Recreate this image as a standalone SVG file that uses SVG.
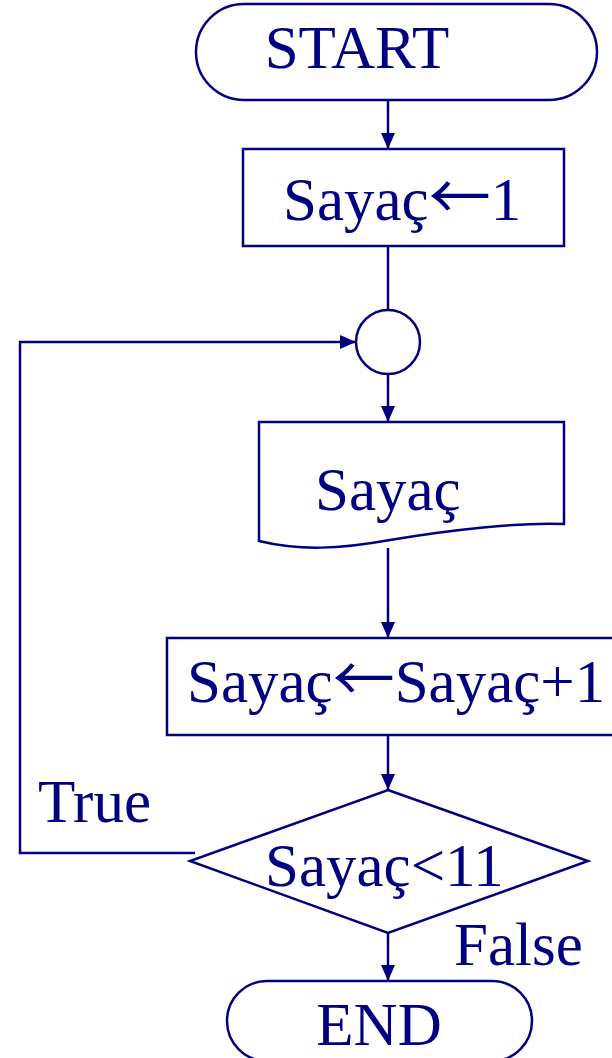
<svg xmlns="http://www.w3.org/2000/svg" width="612" height="1058" viewBox="0 0 612 1058">
<style>
.s{fill:#fff;stroke:#000080;stroke-width:2.5}
.c{fill:none;stroke:#000080;stroke-width:2.5}
.t{font-family:"Liberation Serif","Times New Roman",serif;font-size:61px;fill:#000080}
.ar{font-family:"Noto Sans CJK JP","Noto Sans CJK SC",sans-serif;font-size:62px}
</style>
<defs>
<marker id="a" viewBox="0 0 16 14" refX="16" refY="7" markerWidth="16" markerHeight="14" markerUnits="userSpaceOnUse" orient="auto">
<path d="M0,0 L16,7 L0,14 Z" fill="#000080"/>
</marker>
</defs>
<rect width="612" height="1058" fill="#fff"/>
<g id="connectors">
<line class="c" x1="388" y1="100" x2="388" y2="149" marker-end="url(#a)"/>
<line class="c" x1="388" y1="246" x2="388" y2="310"/>
<line class="c" x1="388" y1="374" x2="388" y2="422" marker-end="url(#a)"/>
<line class="c" x1="388" y1="548" x2="388" y2="638" marker-end="url(#a)"/>
<line class="c" x1="388" y1="735" x2="388" y2="790" marker-end="url(#a)"/>
<line class="c" x1="388" y1="933" x2="388" y2="981" marker-end="url(#a)"/>
<polyline class="c" points="195,853 20,853 20,342 356,342" marker-end="url(#a)"/>
</g>
<g id="start">
<rect class="s" x="196" y="4" width="401" height="96" rx="48" ry="48"/>
<text class="t" x="357" y="68" text-anchor="middle">START</text>
</g>
<g id="init">
<rect class="s" x="243" y="149" width="321" height="97"/>
<text class="t" x="283" y="220">Sayaç<tspan class="ar">←</tspan>1</text>
</g>
<g id="connector-circle">
<circle class="s" cx="388" cy="342" r="32"/>
</g>
<g id="output">
<path class="s" d="M259,422 H564 V524 C520,522 450,530 390,540 C340,549 300,551 259,541 Z"/>
<text class="t" x="315" y="510">Sayaç</text>
</g>
<g id="increment">
<rect class="s" x="167" y="638" width="460" height="97"/>
<text class="t" x="187" y="702">Sayaç<tspan class="ar">←</tspan>Sayaç+1</text>
</g>
<g id="decision">
<polygon class="s" points="388,790 588,861 388,933 190,861"/>
<text class="t" x="265" y="886">Sayaç&lt;11</text>
</g>
<g id="end">
<rect class="s" x="227" y="981" width="305" height="80" rx="40" ry="40"/>
<text class="t" x="379" y="1045" text-anchor="middle">END</text>
</g>
<g id="labels">
<text class="t" x="38" y="822">True</text>
<text class="t" x="454" y="965">False</text>
</g>
</svg>
